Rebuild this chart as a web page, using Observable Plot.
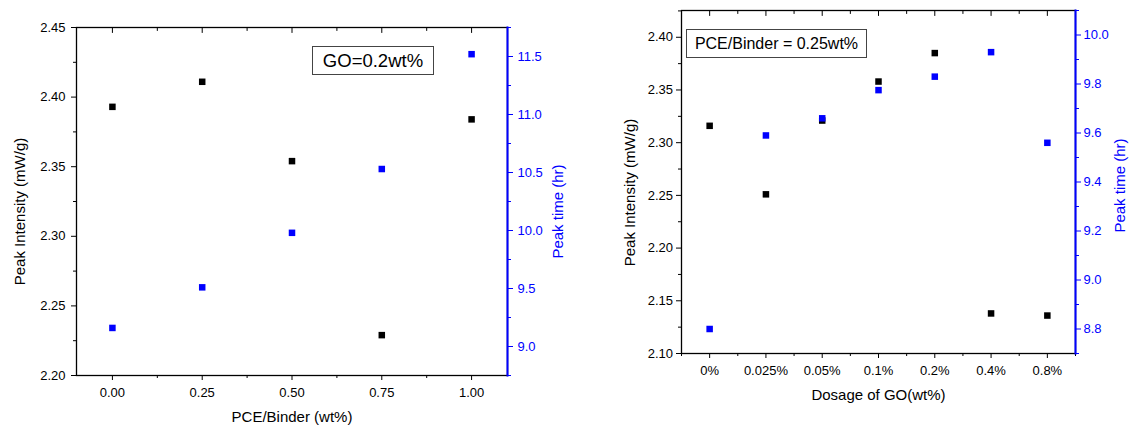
<!DOCTYPE html>
<html><head><meta charset="utf-8">
<script src="https://cdn.jsdelivr.net/npm/d3@7"></script>
<script src="https://cdn.jsdelivr.net/npm/@observablehq/plot@0.6"></script>
<style>
html,body{margin:0;padding:0;background:#fff;}
#root{position:relative;width:1131px;height:427px;overflow:hidden;font-family:"Liberation Sans",Arial,sans-serif;background:#fff;}
#root svg{position:absolute;left:0;top:0;}
.box{position:absolute;border:1px solid #444;box-sizing:border-box;display:flex;align-items:center;justify-content:center;color:#000;white-space:nowrap;background:#fff;}
</style></head><body><div id="root"></div>
<script>
// ---------- Panel A data: GO = 0.2 wt% ----------
const A_x = [0, 0.25, 0.5, 0.75, 1.0];
const A_intensity = [2.393, 2.411, 2.354, 2.229, 2.384];
const A_time = [9.16, 9.51, 9.98, 10.53, 11.52];
const A_xTicks = [0, 0.25, 0.5, 0.75, 1.0];
const A_xTickLabels = ["0.00", "0.25", "0.50", "0.75", "1.00"];
const A_xMinor = [0.125, 0.375, 0.625, 0.875];
const A_yTicks = [2.20, 2.25, 2.30, 2.35, 2.40, 2.45];
const A_yMinor = [2.225, 2.275, 2.325, 2.375, 2.425];
const A_y2Ticks = [9.0, 9.5, 10.0, 10.5, 11.0, 11.5];
const A_y2Minor = [8.75, 9.25, 9.75, 10.25, 10.75, 11.25, 11.75];

// ---------- Panel B data: PCE/Binder = 0.25 wt% ----------
const B_cats = ["0%", "0.025%", "0.05%", "0.1%", "0.2%", "0.4%", "0.8%"];
const B_intensity = [2.316, 2.251, 2.321, 2.358, 2.385, 2.138, 2.136];
const B_time = [8.80, 9.59, 9.66, 9.775, 9.83, 9.93, 9.56];
const B_xMinor = [-0.5, 0.5, 1.5, 2.5, 3.5, 4.5, 5.5, 6.5];
const B_yTicks = [2.10, 2.15, 2.20, 2.25, 2.30, 2.35, 2.40];
const B_yMinor = [2.125, 2.175, 2.225, 2.275, 2.325, 2.375, 2.425];
const B_y2Ticks = [8.8, 9.0, 9.2, 9.4, 9.6, 9.8, 10.0];
const B_y2Minor = [8.7, 8.9, 9.1, 9.3, 9.5, 9.7, 9.9, 10.1];

const W = 1131, H = 427;
const FONT = '"Liberation Sans", Arial, sans-serif';
const BLUE = "#0000ff";
const root = document.getElementById("root");
const tickShape = {draw(ctx, l) { ctx.moveTo(0, 0); ctx.lineTo(0, -l); }};
const topTicks = (vals, len) => Plot.vector(vals, {x: d => d, frameAnchor: "top", length: len, rotate: 180, anchor: "start", shape: tickShape, stroke: "black", strokeWidth: 1});
const title = (s, anchor, dx, dy, rotate, fill) => Plot.text([s], {text: d => d, frameAnchor: anchor, dx, dy, rotate, fontSize: 15, fill, textAnchor: "middle", lineAnchor: "middle"});

function make(frame, x, y, color, marks) {
  const svg = Plot.plot({
    width: W, height: H,
    marginLeft: frame.l, marginRight: W - frame.r, marginTop: frame.t, marginBottom: H - frame.b,
    x, y,
    style: {background: "transparent", fontFamily: FONT, fontSize: "13px", color, overflow: "visible"},
    marks
  });
  root.appendChild(svg);
}

const A_rows = A_x.map((x, i) => ({x, intensity: A_intensity[i], time: A_time[i]}));
const B_rows = B_cats.map((c, i) => ({cat: c, i, intensity: B_intensity[i], time: B_time[i]}));

// ---------- Panel A ----------
const AF = {l: 76, r: 507, t: 27, b: 375};
make(AF, {domain: [-0.1, 1.1], axis: null}, {domain: [2.20, 2.45], axis: null}, "black", [
  Plot.frame({stroke: "black", strokeWidth: 1.3}),
  Plot.axisY({ticks: A_yTicks, tickFormat: d3.format(".2f"), tickSize: 5, tickPadding: 6, label: null}),
  Plot.axisY({ticks: A_yMinor, tickSize: 3, text: null, label: null}),
  Plot.axisX({ticks: A_xTicks, tickFormat: d => A_xTickLabels[A_xTicks.indexOf(d)], tickSize: 5, tickPadding: 7, label: null}),
  Plot.axisX({ticks: A_xMinor, tickSize: 3, text: null, label: null}),
  topTicks(A_xTicks, 5),
  topTicks(A_xMinor, 3),
  Plot.dot(A_rows, {x: "x", y: "intensity", symbol: "square", r: 3.67, fill: "black"}),
  title("Peak Intensity (mW/g)", "left", -56, 10, -90, "black"),
  title("PCE/Binder (wt%)", "bottom", 0, 42, 0, "black")
]);
make(AF, {domain: [-0.1, 1.1], axis: null}, {domain: [8.75, 11.75], axis: null}, BLUE, [
  Plot.frame({anchor: "right", stroke: BLUE, strokeWidth: 2}),
  Plot.axisY({anchor: "right", ticks: A_y2Ticks, tickFormat: d3.format(".1f"), tickSize: 5, tickPadding: 5, label: null}),
  Plot.axisY({anchor: "right", ticks: A_y2Minor, tickSize: 3, text: null, label: null}),
  Plot.dot(A_rows, {x: "x", y: "time", symbol: "square", r: 3.67, fill: BLUE}),
  title("Peak time (hr)", "right", 51, 10, -90, BLUE)
]);

// ---------- Panel B ----------
const BF = {l: 681, r: 1075, t: 10, b: 353};
const B_idx = B_cats.map((c, i) => i);
const BXD = [-0.5, B_cats.length - 0.5];
make(BF, {domain: BXD, axis: null}, {domain: [2.10, 2.4254], axis: null}, "black", [
  Plot.frame({stroke: "black", strokeWidth: 1.3}),
  Plot.axisY({ticks: B_yTicks, tickFormat: d3.format(".2f"), tickSize: 5, tickPadding: 3.5, label: null}),
  Plot.axisY({ticks: B_yMinor, tickSize: 3, text: null, label: null}),
  Plot.axisX({ticks: B_idx, tickFormat: i => B_cats[i], tickSize: 5, tickPadding: 7, label: null}),
  Plot.axisX({ticks: B_xMinor, tickSize: 3, text: null, label: null}),
  topTicks(B_idx, 5),
  topTicks(B_xMinor, 3),
  Plot.dot(B_rows, {x: "i", y: "intensity", symbol: "square", r: 3.67, fill: "black"}),
  title("Peak Intensity (mW/g)", "left", -51, 10.5, -90, "black"),
  title("Dosage of GO(wt%)", "bottom", 0, 42, 0, "black")
]);
make(BF, {domain: BXD, axis: null}, {domain: [8.7, 10.1], axis: null}, BLUE, [
  Plot.frame({anchor: "right", stroke: BLUE, strokeWidth: 2}),
  Plot.axisY({anchor: "right", ticks: B_y2Ticks, tickFormat: d3.format(".1f"), tickSize: 5, tickPadding: 3, label: null}),
  Plot.axisY({anchor: "right", ticks: B_y2Minor, tickSize: 3, text: null, label: null}),
  Plot.dot(B_rows, {x: "i", y: "time", symbol: "square", r: 3.67, fill: BLUE}),
  title("Peak time (hr)", "right", 45, 3.5, -90, BLUE)
]);

// ---------- annotation boxes ----------
function box(text, left, top, w, h, size) {
  const d = document.createElement("div");
  d.className = "box";
  Object.assign(d.style, {left: left + "px", top: top + "px", width: w + "px", height: h + "px", fontSize: size + "px"});
  d.textContent = text;
  root.appendChild(d);
}
box("GO=0.2wt%", 312, 46, 122, 29, 18.5);
box("PCE/Binder = 0.25wt%", 686, 29, 181, 29, 16);
</script></body></html>
